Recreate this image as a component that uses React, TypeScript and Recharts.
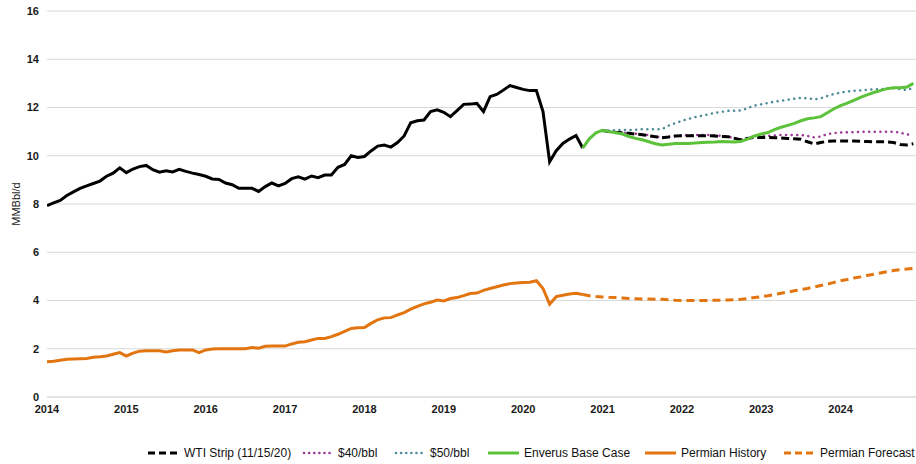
import React from "react";
import { LineChart, Line, XAxis, YAxis, CartesianGrid, Legend } from "recharts";

const years = ["2014", "2015", "2016", "2017", "2018", "2019", "2020", "2021", "2022", "2023", "2024"];
const yTicks = [0, 2, 4, 6, 8, 10, 12, 14, 16];

// monthly, Jan 2014 (m0) .. Oct 2020 (m81)
const usHistory = [
  7.93, 8.05, 8.15, 8.35, 8.5, 8.65, 8.75, 8.85, 8.95, 9.15,
  9.28, 9.5, 9.3, 9.45, 9.55, 9.6, 9.42, 9.32, 9.38, 9.33,
  9.44, 9.35, 9.28, 9.22, 9.15, 9.04, 9.02, 8.87, 8.8, 8.65,
  8.65, 8.65, 8.52, 8.72, 8.87, 8.75, 8.85, 9.05, 9.13, 9.03,
  9.16, 9.09, 9.2, 9.2, 9.52, 9.64, 10.0, 9.93, 9.97, 10.2,
  10.4, 10.44, 10.36, 10.55, 10.82, 11.37, 11.45, 11.48, 11.83, 11.9,
  11.8, 11.62, 11.87, 12.13, 12.14, 12.17, 11.83, 12.45, 12.54, 12.72,
  12.91, 12.83, 12.75, 12.7, 12.7, 11.83, 9.75, 10.21, 10.51, 10.69,
  10.84, 10.32,
];

const permianHistory = [
  1.46, 1.48, 1.52, 1.56, 1.58, 1.59, 1.6, 1.65, 1.67, 1.7,
  1.77, 1.84, 1.7, 1.82, 1.9, 1.92, 1.92, 1.92, 1.87, 1.92,
  1.95, 1.95, 1.95, 1.84, 1.95, 1.99, 2.0, 2.0, 2.0, 2.0,
  2.0, 2.05, 2.02, 2.1, 2.11, 2.11, 2.11, 2.2, 2.27, 2.29,
  2.36, 2.43, 2.43, 2.5, 2.6, 2.72, 2.84, 2.87, 2.88, 3.05,
  3.2, 3.28, 3.29, 3.4, 3.5, 3.64, 3.76, 3.86, 3.93, 4.02,
  3.98, 4.08, 4.12, 4.2, 4.29, 4.31, 4.42, 4.5, 4.57, 4.64,
  4.7, 4.73, 4.75, 4.76, 4.82, 4.5, 3.85, 4.16, 4.22, 4.27,
  4.3, 4.25,
];

// Oct 2020 (m81) .. Dec 2024 (m131)
const enverusBase = [
  10.32, 10.7, 10.95, 11.05, 11.0, 10.95, 10.9, 10.8, 10.72, 10.66,
  10.58, 10.5, 10.45, 10.48, 10.51, 10.51, 10.51, 10.53, 10.55, 10.56,
  10.57, 10.59, 10.58, 10.57, 10.6, 10.7, 10.82, 10.9, 10.96, 11.08,
  11.18, 11.26, 11.34, 11.45, 11.53, 11.57, 11.62, 11.78, 11.95, 12.08,
  12.18, 12.3, 12.42, 12.52, 12.62, 12.7, 12.78, 12.82, 12.82, 12.85,
  13.0,
];

const permianForecast = [
  4.25, 4.2, 4.17, 4.15, 4.13, 4.12, 4.1, 4.08, 4.07, 4.06,
  4.06, 4.05, 4.05, 4.03, 4.01, 4.0, 4.0, 4.0, 4.0, 4.0,
  4.01, 4.01, 4.02, 4.03, 4.05, 4.08, 4.12, 4.16, 4.2, 4.25,
  4.3, 4.35, 4.4, 4.45, 4.5, 4.56, 4.62, 4.68, 4.75, 4.82,
  4.87, 4.93, 4.98, 5.04, 5.09, 5.14, 5.19, 5.24, 5.28, 5.31,
  5.33,
];

// Jan 2021 (m84) .. Dec 2024 (m131)
const price50 = [
  11.05, 11.05, 11.06, 11.07, 11.07, 11.08, 11.1,
  11.1, 11.1, 11.1, 11.25, 11.35, 11.45, 11.53, 11.6, 11.66, 11.72,
  11.78, 11.82, 11.86, 11.87, 11.88, 11.98, 12.08, 12.13, 12.19, 12.24,
  12.28, 12.32, 12.36, 12.4, 12.38, 12.34, 12.38, 12.48, 12.56, 12.62,
  12.66, 12.69, 12.71, 12.73, 12.75, 12.76, 12.78, 12.8, 12.76, 12.72,
  12.82,
];

const price40 = [
  11.05, 11.0, 10.97, 10.95, 10.93, 10.91, 10.89,
  10.85, 10.8, 10.75, 10.78, 10.82, 10.84, 10.85, 10.86, 10.86, 10.86,
  10.85, 10.82, 10.79, 10.73, 10.68, 10.75, 10.8, 10.82, 10.83, 10.84,
  10.86, 10.86, 10.86, 10.86, 10.82, 10.76, 10.8, 10.9, 10.94, 10.96,
  10.97, 10.98, 10.99, 11.0, 11.0, 11.0, 11.0, 11.0, 10.96, 10.88,
  10.86,
];

const wtiStrip = [
  11.05, 11.0, 10.97, 10.95, 10.93, 10.9, 10.87,
  10.83, 10.79, 10.75, 10.78, 10.82, 10.83, 10.83, 10.83, 10.83, 10.83,
  10.82, 10.8, 10.79, 10.72, 10.65, 10.72, 10.76, 10.76, 10.76, 10.75,
  10.74, 10.72, 10.7, 10.68, 10.58, 10.49, 10.55, 10.6, 10.61, 10.61,
  10.61, 10.61, 10.6, 10.59, 10.58, 10.58, 10.58, 10.55, 10.47, 10.45,
  10.5,
];

const FORECAST_START = 81;
const STRIP_START = 84;
const TOTAL_MONTHS = 132;

const data = Array.from({ length: TOTAL_MONTHS }, (_, m) => ({
  m,
  usHistory: m < usHistory.length ? usHistory[m] : null,
  permianHistory: m < permianHistory.length ? permianHistory[m] : null,
  enverus: m >= FORECAST_START ? enverusBase[m - FORECAST_START] ?? null : null,
  permianForecast: m >= FORECAST_START ? permianForecast[m - FORECAST_START] ?? null : null,
  p50: m >= STRIP_START ? price50[m - STRIP_START] ?? null : null,
  p40: m >= STRIP_START ? price40[m - STRIP_START] ?? null : null,
  wti: m >= STRIP_START ? wtiStrip[m - STRIP_START] ?? null : null,
}));

const xTicks = years.map((_, i) => i * 12);

const C = {
  black: "#000000",
  purple: "#9b3a94",
  teal: "#4e8c99",
  green: "#5cc23a",
  orange: "#e2750f",
};

const legendItems = [
  { label: "WTI Strip (11/15/20)", color: C.black, dash: "7 4", width: 3, cap: "butt", left: 148 },
  { label: "$40/bbl", color: C.purple, dash: "0.1 5", width: 2.5, cap: "round", left: 302 },
  { label: "$50/bbl", color: C.teal, dash: "0.1 5", width: 2.5, cap: "round", left: 394 },
  { label: "Enverus Base Case", color: C.green, dash: undefined, width: 3, cap: "butt", left: 488 },
  { label: "Permian History", color: C.orange, dash: undefined, width: 3, cap: "butt", left: 645 },
  { label: "Permian Forecast", color: C.orange, dash: "7 4", width: 3, cap: "butt", left: 784 },
];

const FONT = "'Liberation Sans', Arial, sans-serif";

const LegendContent = () => (
  <div style={{ position: "relative", width: 916, height: 20, fontFamily: FONT }}>
    {legendItems.map((it) => (
      <div
        key={it.label}
        style={{ position: "absolute", left: it.left, top: 0, height: 20, display: "flex", alignItems: "center" }}
      >
        <svg width={32} height={20} style={{ display: "block" }}>
          <line
            x1={it.cap === "round" ? 2 : 0}
            x2={it.cap === "round" ? 30 : 31}
            y1={10}
            y2={10}
            stroke={it.color}
            strokeWidth={it.width}
            strokeDasharray={it.dash}
            strokeLinecap={it.cap as any}
          />
        </svg>
        <span style={{ marginLeft: 4, fontSize: 12, color: "#111", whiteSpace: "nowrap", fontWeight: 400 }}>
          {it.label}
        </span>
      </div>
    ))}
  </div>
);

const YLabel = () => (
  <text
    x={16}
    y={204}
    transform="rotate(-90 16 204)"
    textAnchor="middle"
    dominantBaseline="central"
    fontSize={11}
    fontFamily={FONT}
    fill="#1a1a1a"
  >
    MMBbl/d
  </text>
);

export default function App() {
  return (
    <div style={{ position: "absolute", left: 0, top: 0, width: 916, height: 464, background: "#fff", fontFamily: FONT }}>
      <LineChart width={916} height={464} data={data} margin={{ top: 11, right: 0, bottom: 17, left: 0 }}>
        <CartesianGrid vertical={false} stroke="#d9d9d9" strokeWidth={1} />
        <XAxis
          dataKey="m"
          type="number"
          domain={[0, 131.4]}
          ticks={xTicks}
          tickFormatter={(v: number) => years[Math.round(v / 12)] ?? ""}
          axisLine={{ stroke: "#d9d9d9" }}
          tickLine={false}
          height={30}
          tick={{ fontSize: 11, fontWeight: 700, fill: "#1a1a1a", fontFamily: FONT }}
          allowDataOverflow
        />
        <YAxis
          domain={[0, 16]}
          ticks={yTicks}
          axisLine={false}
          tickLine={false}
          width={47}
          tick={{ fontSize: 11, fontWeight: 700, fill: "#1a1a1a", fontFamily: FONT }}
          label={{ content: () => <YLabel /> }}
        />
        <Legend verticalAlign="bottom" height={20} content={() => <LegendContent />} wrapperStyle={{ bottom: 1, left: 0 }} />
        <Line dataKey="usHistory" stroke={C.black} strokeWidth={3} dot={false} isAnimationActive={false} legendType="none" />
        <Line dataKey="permianHistory" stroke={C.orange} strokeWidth={3} dot={false} isAnimationActive={false} />
        <Line dataKey="permianForecast" stroke={C.orange} strokeWidth={3} strokeDasharray="8 5" dot={false} isAnimationActive={false} />
        <Line dataKey="p50" stroke={C.teal} strokeWidth={2.5} strokeDasharray="0.1 5.5" strokeLinecap="round" dot={false} isAnimationActive={false} />
        <Line dataKey="p40" stroke={C.purple} strokeWidth={2.5} strokeDasharray="0.1 5.5" strokeLinecap="round" dot={false} isAnimationActive={false} />
        <Line dataKey="wti" stroke={C.black} strokeWidth={3} strokeDasharray="8 4" dot={false} isAnimationActive={false} />
        <Line dataKey="enverus" stroke={C.green} strokeWidth={3} dot={false} isAnimationActive={false} />
      </LineChart>
    </div>
  );
}
